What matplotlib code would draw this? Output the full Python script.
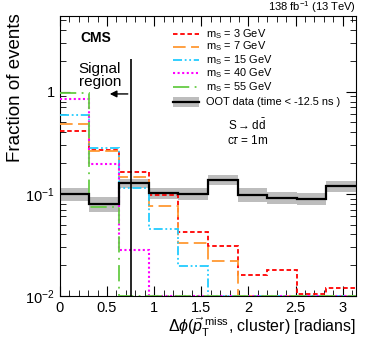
import numpy as np
import matplotlib.pyplot as plt
from matplotlib.patches import Rectangle

plt.rcParams['font.family'] = ['Liberation Sans', 'DejaVu Sans']
plt.rcParams['mathtext.fontset'] = 'custom'
plt.rcParams['mathtext.rm'] = 'Liberation Sans'
plt.rcParams['mathtext.it'] = 'Liberation Sans:italic'
plt.rcParams['mathtext.bf'] = 'Liberation Sans:bold'

# ------------------------------------------------------------
# Data
# ------------------------------------------------------------
edges = np.linspace(0, np.pi, 11)
ms3 = [0.41, 0.267, 0.165, 0.097, 0.042, 0.031, 0.0161, 0.018, 0.0105, 0.012]
ms7 = [0.48, 0.26, 0.146, 0.076, 0.033, 0.022, 0.0, 0.0, 0.0, 0.0]
ms15 = [0.585, 0.284, 0.114, 0.045, 0.0195, 0.0, 0.0, 0.0, 0.0, 0.0]
ms40 = [0.85, 0.195, 0.028, 0.0, 0.0, 0.0, 0.0, 0.0, 0.0, 0.0]
ms55 = [0.98, 0.075, 0.0, 0.0, 0.0, 0.0, 0.0, 0.0, 0.0, 0.0]
oot = [0.100, 0.080, 0.128, 0.102, 0.100, 0.137, 0.098, 0.0917, 0.0895, 0.120]
oot_err = [0.015, 0.013, 0.013, 0.013, 0.013, 0.015, 0.015, 0.012, 0.012, 0.015]

signal_labels = ['m$_{\\rm S}$ = 3 GeV', 'm$_{\\rm S}$ = 7 GeV', 'm$_{\\rm S}$ = 15 GeV',
                 'm$_{\\rm S}$ = 40 GeV', 'm$_{\\rm S}$ = 55 GeV']
oot_label = 'OOT data (time < -12.5 ns )'
cut = 0.75
ymin, ymax = 0.01, 5.5

# ------------------------------------------------------------
# Figure
# ------------------------------------------------------------
fig = plt.figure(figsize=(3.74, 3.41), dpi=100)
ax = fig.add_axes([0.160, 0.132, 0.792, 0.821])
ax.set_yscale('log')

styles = [
    dict(color='#ff0000', ls=(0, (2.5, 1.5)), lw=1.3),
    dict(color='#ff9933', ls=(0, (7, 3)), lw=1.3),
    dict(color='#22ccff', ls=(0, (5, 1.5, 1, 1.5, 1, 1.5)), lw=1.3),
    dict(color='#ff00ff', ls=(0, (1, 1.2)), lw=1.5),
    dict(color='#66cc44', ls=(0, (9, 3, 1, 3)), lw=1.3),
]

# OOT band and line
v = np.array(oot)
e = np.array(oot_err)
ax.stairs(v + e, edges, baseline=v - e, fill=True, color='#bdbdbd', lw=0, zorder=2)
ax.stairs(v, edges, baseline=None, color='black', lw=1.6, zorder=4)

for vals, st in zip([ms3, ms7, ms15, ms40, ms55], styles):
    vv = np.maximum(np.array(vals), ymin)
    ax.stairs(vv, edges, baseline=None, zorder=3, **st)

# ---- hand-made legend (tight rows like the original) ----
row_y = [0.936, 0.891, 0.843, 0.795, 0.746, 0.693]
hx0, hx1, tx = 0.382, 0.470, 0.493
for yy, st, lab in zip(row_y, styles, signal_labels):
    ax.plot([hx0, hx1], [yy, yy], transform=ax.transAxes, **st)
    ax.text(tx, yy, lab, transform=ax.transAxes, fontsize=7.9, va='center')
yo = row_y[-1]
ax.add_patch(Rectangle((hx0, yo - 0.018), hx1 - hx0, 0.036, transform=ax.transAxes,
                       facecolor='#bdbdbd', edgecolor='none'))
ax.plot([hx0, hx1], [yo, yo], transform=ax.transAxes, color='black', lw=1.6)
ax.text(tx, yo, oot_label, transform=ax.transAxes, fontsize=7.9, va='center')

# signal region marker
ax.vlines(cut, ymin, 2.1, color='black', lw=1.2, zorder=5)
ax.annotate('', xy=(0.50, 0.95), xytext=(cut, 0.95),
            arrowprops=dict(arrowstyle='-|>', color='black', lw=1,
                            mutation_scale=10))
ax.text(0.425, 1.43, 'Signal\nregion', ha='center', va='center', fontsize=11,
        linespacing=0.9)

ax.text(0.068, 0.92, 'CMS', transform=ax.transAxes, fontsize=10,
        fontweight='bold', va='center')
ax.text(0.63, 0.61, r'S$\rightarrow$d$\bar{\rm d}$', transform=ax.transAxes,
        fontsize=8.5, ha='center', va='center')
ax.text(0.635, 0.555, r'c$\tau$ = 1m', transform=ax.transAxes,
        fontsize=8.5, ha='center', va='center')
ax.text(1.0, 1.005, r'138 fb$^{-1}$ (13 TeV)', transform=ax.transAxes,
        ha='right', va='bottom', fontsize=8)

ax.set_xlim(0, np.pi)
ax.set_ylim(ymin, ymax)
ax.set_xticks([0, 0.5, 1, 1.5, 2, 2.5, 3])
ax.set_xticklabels(['0', '0.5', '1', '1.5', '2', '2.5', '3'])
ax.set_xticks(np.arange(0, 3.15, 0.1), minor=True)
ax.set_yticks([0.01, 0.1, 1])
ax.set_yticklabels(['$10^{-2}$', '$10^{-1}$', '1'])
ax.tick_params(which='both', direction='in', top=True, right=True,
               labelsize=10.5)
ax.tick_params(which='major', length=7)
ax.tick_params(which='minor', length=4)

ax.set_ylabel('Fraction of events', fontsize=13.5, loc='top')
ax.yaxis.set_label_coords(-0.122, 1.01)
ax.set_xlabel(r'$\Delta\phi(\vec{p}_{\mathrm{T}}^{\;\mathrm{miss}}$, cluster) [radians]',
              fontsize=11.5, loc='right', labelpad=1)

fig.savefig('out.png', dpi=100)
